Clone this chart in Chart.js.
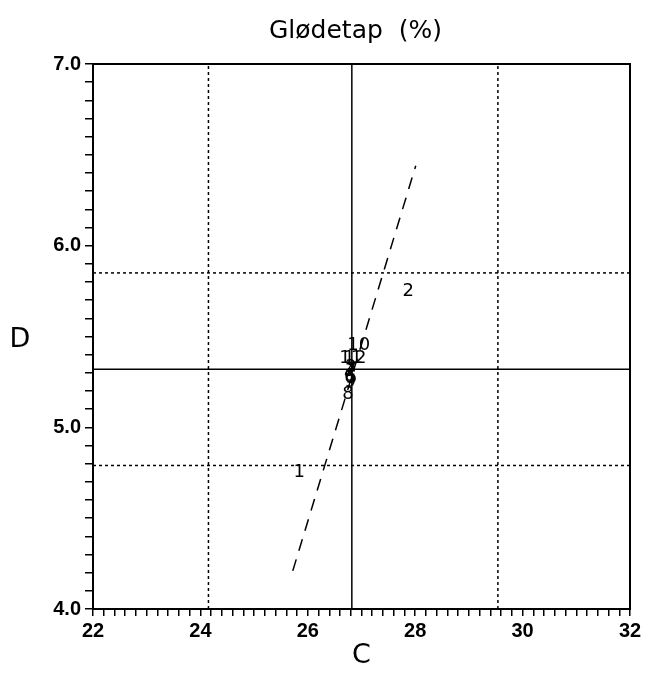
<!DOCTYPE html>
<html>
<head>
<meta charset="utf-8">
<script src="https://cdn.jsdelivr.net/npm/chart.js@4"></script>
<style>
  html, body { margin: 0; padding: 0; background: #fff; }
  #wrap { width: 648px; height: 676px; }
</style>
</head>
<body>
<div id="wrap"><canvas id="chart" width="648" height="676"></canvas></div>
<script>
// Youden plot - Glødetap
const labNames = ['1', '2', '3', '4', '5', '6', '7', '8', '9', '10', '11', '12'];
const cValues = [25.84, 27.87, 26.80, 26.78, 26.82, 26.78, 26.80, 26.75, 26.79, 26.95, 26.80, 26.88];
const dValues = [4.75, 5.75, 5.33, 5.30, 5.27, 5.28, 5.31, 5.18, 5.25, 5.45, 5.38, 5.38];

const medianC = 26.82;
const medianD = 5.32;
const limitsC = [24.15, 29.54];
const limitsD = [4.79, 5.85];
const diagC = [25.72, 28.01];
const diagD = [4.21, 6.44];

const xTicks = [22, 24, 26, 28, 30, 32];
const yTicks = [4.0, 5.0, 6.0, 7.0];

const titleText = 'Glødetap  (%)';
const xLabel = 'C';
const yLabel = 'D';

const xMin = 22, xMax = 32, yMin = 4, yMax = 7;

function lineSet(pts, dash, width) {
  return {
    type: 'line',
    data: pts,
    borderColor: '#000',
    borderWidth: width,
    borderDash: dash,
    pointRadius: 0,
    fill: false,
    showLine: true
  };
}

// labels drawn at data points instead of markers, plus title / upright y label
const labelPlugin = {
  id: 'labelPlugin',
  afterDatasetsDraw(chart) {
    const ctx = chart.ctx;
    const xs = chart.scales.x, ys = chart.scales.y;
    const a = chart.chartArea;
    ctx.save();
    ctx.fillStyle = '#000';
    ctx.font = '18px "DejaVu Sans", sans-serif';
    ctx.textAlign = 'center';
    ctx.textBaseline = 'middle';
    for (let i = 0; i < labNames.length; i++) {
      ctx.fillText(labNames[i], xs.getPixelForValue(cValues[i]), ys.getPixelForValue(dValues[i]));
    }
    // frame
    ctx.strokeStyle = '#000';
    ctx.lineWidth = 2;
    ctx.strokeRect(a.left, a.top, a.right - a.left, a.bottom - a.top);
    // title
    ctx.font = '25px "DejaVu Sans", sans-serif';
    ctx.fillText(titleText, (a.left + a.right) / 2 - 6, 31);
    // y label upright
    ctx.font = '27px "DejaVu Sans", sans-serif';
    ctx.fillText(yLabel, 20, (a.top + a.bottom) / 2 + 3);
    ctx.restore();
  }
};

const datasets = [
  lineSet([{ x: medianC, y: yMin }, { x: medianC, y: yMax }], [], 1.5),
  lineSet([{ x: xMin, y: medianD }, { x: xMax, y: medianD }], [], 1.5),
  lineSet([{ x: limitsC[0], y: yMin }, { x: limitsC[0], y: yMax }], [3, 3], 1.5),
  lineSet([{ x: limitsC[1], y: yMin }, { x: limitsC[1], y: yMax }], [3, 3], 1.5),
  lineSet([{ x: xMin, y: limitsD[0] }, { x: xMax, y: limitsD[0] }], [3, 3], 1.5),
  lineSet([{ x: xMin, y: limitsD[1] }, { x: xMax, y: limitsD[1] }], [3, 3], 1.5),
  lineSet([{ x: diagC[0], y: diagD[0] }, { x: diagC[1], y: diagD[1] }], [12, 9], 1.5)
];

new Chart(document.getElementById('chart').getContext('2d'), {
  type: 'scatter',
  data: { datasets: datasets },
  plugins: [labelPlugin],
  options: {
    responsive: false,
    animation: false,
    layout: { padding: { left: 0, right: 18, top: 64, bottom: 0 } },
    plugins: {
      legend: { display: false },
      tooltip: { enabled: false },
      title: { display: false }
    },
    scales: {
      x: {
        type: 'linear',
        min: xMin, max: xMax,
        border: { color: '#000', width: 2 },
        grid: { drawOnChartArea: false, color: '#000', tickLength: 7, lineWidth: 1.5 },
        ticks: {
          stepSize: 0.2,
          autoSkip: false,
          maxRotation: 0,
          color: '#000',
          padding: 3,
          font: { family: '"Liberation Sans", Arial, sans-serif', size: 20, weight: 'bold' },
          callback: (v) => {
            const r = Math.round(v);
            return (Math.abs(v - r) < 1e-6 && xTicks.includes(r)) ? String(r) : '';
          }
        },
        title: {
          display: true, text: xLabel, color: '#000',
          font: { family: '"DejaVu Sans", sans-serif', size: 27, weight: 'normal' },
          padding: { top: 0, bottom: 4 }
        },
        afterFit: (s) => { s.height = 67; }
      },
      y: {
        type: 'linear',
        min: yMin, max: yMax,
        border: { color: '#000', width: 2 },
        grid: { drawOnChartArea: false, color: '#000', tickLength: 8, lineWidth: 1.5 },
        ticks: {
          stepSize: 0.1,
          autoSkip: false,
          color: '#000',
          padding: 4,
          font: { family: '"Liberation Sans", Arial, sans-serif', size: 20, weight: 'bold' },
          callback: (v) => {
            const r = Math.round(v);
            return (Math.abs(v - r) < 1e-6 && yTicks.includes(r)) ? r.toFixed(1) : '';
          }
        },
        title: { display: false },
        afterFit: (s) => { s.width = 93; }
      }
    }
  }
});
</script>
</body>
</html>
